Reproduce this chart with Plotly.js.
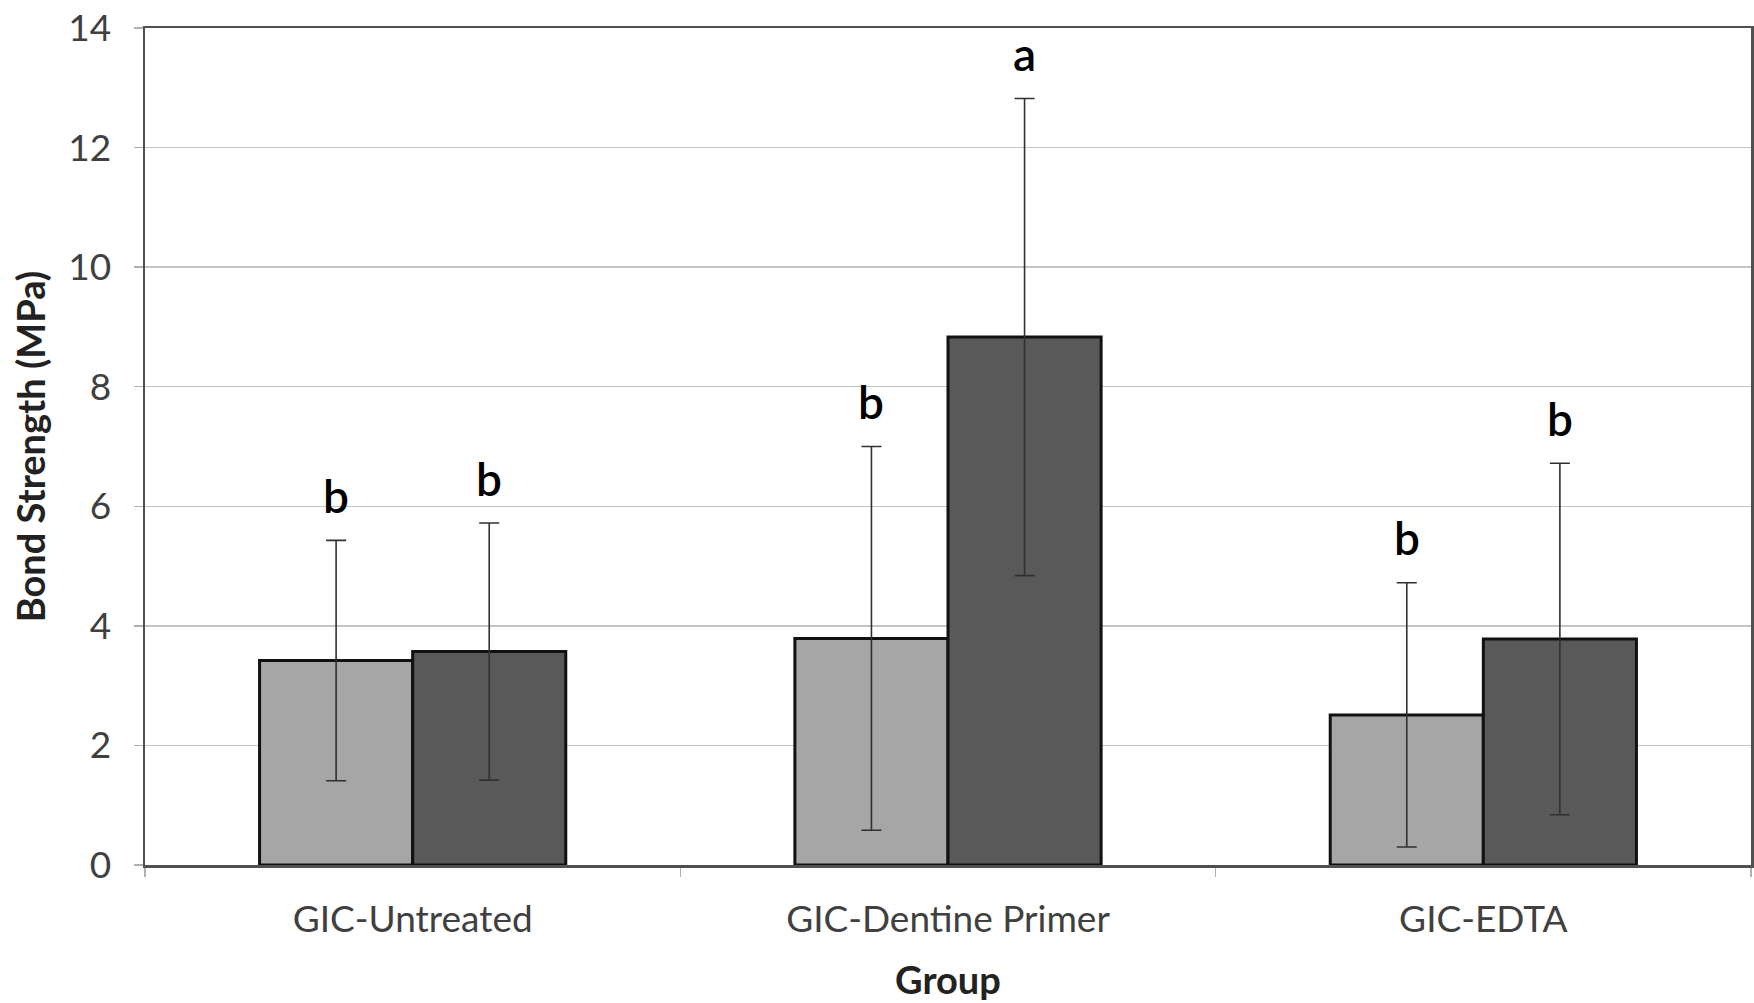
<!DOCTYPE html>
<html>
<head>
<meta charset="utf-8">
<script src="https://cdn.plot.ly/plotly-3.0.1.min.js"></script>
<style>
  html, body { margin: 0; padding: 0; background: #fff; }
  #chart { width: 1754px; height: 1003px; }
</style>
</head>
<body>
<div id="chart"></div>
<script>
// ---- data ----
const categories = ["GIC-Untreated", "GIC-Dentine Primer", "GIC-EDTA"];
const lightValues = [3.42, 3.79, 2.51];
const lightErrors = [2.01, 3.21, 2.21];
const darkValues = [3.57, 8.83, 3.78];
const darkErrors = [2.15, 3.99, 2.94];
const lightLetters = ["b", "b", "b"];
const darkLetters = ["b", "a", "b"];
const yTickValues = [0, 2, 4, 6, 8, 10, 12, 14];

// ---- layout / style ----
const W = 1754, H = 1003;
const margin = { l: 145, r: 3, t: 28, b: 138 };
const bargap = 0.428;
const plotW = W - margin.l - margin.r;
const barPx = plotW / categories.length * (1 - bargap) / 2;
const font = "Lato, 'Open Sans', 'DejaVu Sans', sans-serif";

const errStyle = { type: "data", visible: true, color: "#303030", thickness: 1.6, width: 10 };

const traces = [
  {
    type: "bar", name: "Series 1", x: categories, y: lightValues,
    marker: { color: "#a6a6a6", line: { color: "#111111", width: 3 } },
    error_y: Object.assign({ array: lightErrors }, errStyle)
  },
  {
    type: "bar", name: "Series 2", x: categories, y: darkValues,
    marker: { color: "#595959", line: { color: "#111111", width: 3 } },
    error_y: Object.assign({ array: darkErrors }, errStyle)
  }
];

const letterFont = { family: font, size: 46, color: "#000", weight: 600 };
const annotations = [];
categories.forEach((c, i) => {
  annotations.push({
    x: c, y: lightValues[i] + lightErrors[i], xref: "x", yref: "y",
    text: lightLetters[i], showarrow: false, xshift: -barPx / 2, yshift: 45,
    yanchor: "middle", font: letterFont
  });
  annotations.push({
    x: c, y: darkValues[i] + darkErrors[i], xref: "x", yref: "y",
    text: darkLetters[i], showarrow: false, xshift: barPx / 2, yshift: 45,
    yanchor: "middle", font: letterFont
  });
});

const layout = {
  width: W, height: H, margin: margin,
  paper_bgcolor: "#ffffff", plot_bgcolor: "#ffffff",
  barmode: "group", bargap: bargap, bargroupgap: 0,
  showlegend: false,
  font: { family: font, color: "#404040" },
  xaxis: {
    type: "category",
    showline: true, linecolor: "#505050", linewidth: 2.5, mirror: true,
    showgrid: false, zeroline: false,
    ticks: "outside", tickson: "boundaries", ticklen: 9, tickcolor: "#b0b0b0", tickwidth: 1.5,
    tickfont: { family: font, size: 37, color: "#404040" },
    ticklabelstandoff: 20,
    title: { text: "Group", font: { family: font, size: 38, color: "#222", weight: "bold" }, standoff: 29 }
  },
  yaxis: {
    range: [0, 14], tickvals: yTickValues, ticktext: yTickValues.map(String),
    showline: true, linecolor: "#505050", linewidth: 2.5, mirror: true,
    showgrid: true, gridcolor: "#c4c4c4", gridwidth: 1.5, zeroline: false,
    ticks: "outside", ticklen: 9, tickcolor: "#b0b0b0", tickwidth: 1.5,
    tickfont: { family: font, size: 37, color: "#404040" },
    ticklabelstandoff: 15,
    title: { text: "Bond Strength (MPa)", font: { family: font, size: 38, color: "#222", weight: "bold" }, standoff: 11 }
  },
  annotations: annotations
};

Plotly.newPlot("chart", traces, layout, { staticPlot: true, displayModeBar: false });
</script>
</body>
</html>
